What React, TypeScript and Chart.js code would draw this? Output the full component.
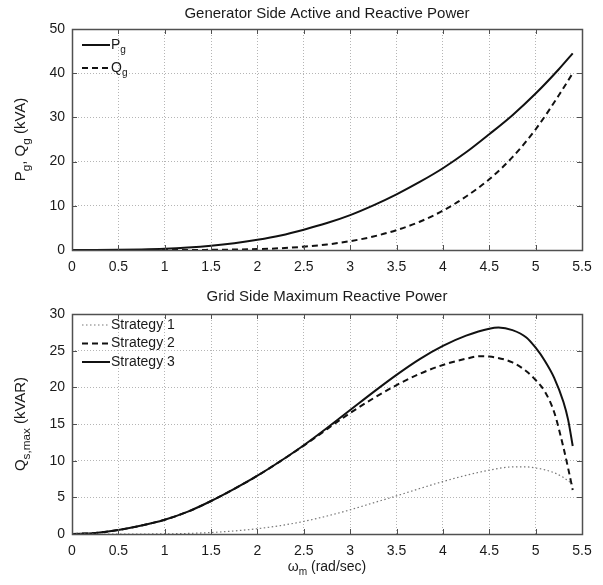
import React, { useEffect, useRef } from "react";
import { Chart, registerables } from "chart.js";

Chart.register(...registerables);

// ---------- data ----------
const TOP_TITLE = "Generator Side Active and Reactive Power";
const BOTTOM_TITLE = "Grid Side Maximum Reactive Power";

const X_TICKS = [0, 0.5, 1, 1.5, 2, 2.5, 3, 3.5, 4, 4.5, 5, 5.5];
const TOP_Y_TICKS = [0, 10, 20, 30, 40, 50];
const BOTTOM_Y_TICKS = [0, 5, 10, 15, 20, 25, 30];

const OMEGA_TOP = [0, 0.25, 0.5, 0.75, 1, 1.25, 1.5, 1.75, 2, 2.25, 2.5, 2.75, 3, 3.25, 3.5, 3.75, 4, 4.25, 4.5, 4.75, 5, 5.25, 5.4];
const P_G = [0, 0.004, 0.035, 0.12, 0.28, 0.56, 0.97, 1.55, 2.32, 3.3, 4.6, 6.1, 7.9, 10.1, 12.6, 15.4, 18.5, 22.1, 26.2, 30.5, 35.4, 40.9, 44.5];
const Q_G = [0, 0, 0, 0, 0, 0, 0.04, 0.1, 0.2, 0.4, 0.75, 1.25, 2.0, 3.05, 4.5, 6.4, 8.9, 12.1, 16.0, 21.0, 27.3, 35.0, 40.0];

const OMEGA_S3 = [0, 0.25, 0.5, 0.75, 1, 1.25, 1.5, 1.75, 2, 2.25, 2.5, 2.75, 3, 3.25, 3.5, 3.75, 4, 4.25, 4.5, 4.6, 4.75, 4.9, 5, 5.1, 5.2, 5.3, 5.35, 5.4];
const STRATEGY_3 = [0, 0.15, 0.55, 1.15, 1.95, 3.05, 4.5, 6.15, 7.95, 9.95, 12.1, 14.45, 16.9, 19.35, 21.7, 23.85, 25.65, 27.05, 28.0, 28.15, 27.8, 26.8, 25.4, 23.6, 21.3, 18.0, 15.6, 12.0];

const OMEGA_S2 = [0, 0.25, 0.5, 0.75, 1, 1.25, 1.5, 1.75, 2, 2.25, 2.5, 2.75, 3, 3.25, 3.5, 3.75, 4, 4.25, 4.4, 4.5, 4.75, 4.9, 5, 5.1, 5.2, 5.3, 5.35, 5.4];
const STRATEGY_2 = [0, 0.15, 0.55, 1.15, 1.95, 3.05, 4.5, 6.15, 7.95, 9.95, 12.05, 14.3, 16.5, 18.5, 20.3, 21.85, 23.05, 23.9, 24.25, 24.2, 23.4, 22.2, 21.0, 19.4, 16.6, 11.8, 9.0, 6.0];

const OMEGA_S1 = [0, 0.25, 0.5, 0.75, 1, 1.25, 1.5, 1.75, 2, 2.25, 2.5, 2.75, 3, 3.25, 3.5, 3.75, 4, 4.25, 4.5, 4.75, 4.9, 5, 5.1, 5.2, 5.3, 5.4];
const STRATEGY_1 = [0, 0, 0, 0, 0.02, 0.08, 0.2, 0.42, 0.72, 1.15, 1.72, 2.45, 3.3, 4.25, 5.2, 6.2, 7.15, 8.0, 8.7, 9.15, 9.15, 9.0, 8.75, 8.35, 7.7, 6.8];

// ---------- helpers ----------
type Seg = { t: string; sub?: boolean };
const FONT = '"Liberation Sans", Arial, Helvetica, sans-serif';
const TEXT = "#1a1a1a";

function richWidth(ctx: CanvasRenderingContext2D, segs: Seg[], size: number, subRatio: number) {
  let w = 0;
  for (const s of segs) {
    ctx.font = `${s.sub ? size * subRatio : size}px ${FONT}`;
    w += ctx.measureText(s.t).width;
  }
  return w;
}

function drawRich(ctx: CanvasRenderingContext2D, segs: Seg[], x: number, y: number, size: number, align: "left" | "center", subRatio = 0.72) {
  const w = richWidth(ctx, segs, size, subRatio);
  let cx = align === "center" ? x - w / 2 : x;
  ctx.textBaseline = "middle";
  ctx.textAlign = "left";
  for (const s of segs) {
    const fs = s.sub ? size * subRatio : size;
    ctx.font = `${fs}px ${FONT}`;
    ctx.fillText(s.t, cx, s.sub ? y + size * 0.38 : y);
    cx += ctx.measureText(s.t).width;
  }
}

type Decor = {
  title: string;
  titleY: number;
  yTitle: Seg[];
  yTitleX: number;
  xTitle?: Seg[];
  xTitleY?: number;
  legend: Seg[][];
  legendY: number[];
};

function makeDecor(cfg: Decor) {
  return {
    id: "decor",
    afterDraw(chart: any) {
      const { ctx, chartArea: a, scales } = chart;
      ctx.save();
      ctx.strokeStyle = "#505050";
      ctx.lineWidth = 1;
      ctx.setLineDash([]);
      const line = (x1: number, y1: number, x2: number, y2: number) => {
        ctx.beginPath();
        ctx.moveTo(x1, y1);
        ctx.lineTo(x2, y2);
        ctx.stroke();
      };
      scales.x.ticks.forEach((t: any) => {
        const px = Math.round(scales.x.getPixelForValue(t.value)) + 0.5;
        line(px, a.bottom, px, a.bottom - 5);
        line(px, a.top, px, a.top + 5);
      });
      scales.y.ticks.forEach((t: any) => {
        const py = Math.round(scales.y.getPixelForValue(t.value)) + 0.5;
        line(a.left, py, a.left + 5, py);
        line(a.right, py, a.right - 5, py);
      });
      ctx.lineWidth = 1.5;
      ctx.strokeRect(Math.round(a.left) + 0.5, Math.round(a.top) + 0.5, Math.round(a.right - a.left), Math.round(a.bottom - a.top));

      ctx.fillStyle = TEXT;
      drawRich(ctx, [{ t: cfg.title }], (a.left + a.right) / 2, cfg.titleY, 15, "center");
      ctx.save();
      ctx.translate(cfg.yTitleX, (a.top + a.bottom) / 2);
      ctx.rotate(-Math.PI / 2);
      drawRich(ctx, cfg.yTitle, 0, 0, 15, "center", 0.78);
      ctx.restore();
      if (cfg.xTitle && cfg.xTitleY !== undefined) {
        drawRich(ctx, cfg.xTitle, (a.left + a.right) / 2, cfg.xTitleY, 14, "center");
      }
      chart.data.datasets.forEach((ds: any, i: number) => {
        const y = cfg.legendY[i];
        ctx.strokeStyle = ds.borderColor;
        ctx.lineWidth = ds.borderWidth;
        ctx.setLineDash(ds.borderDash || []);
        line(82, y, 110, y);
        ctx.setLineDash([]);
        ctx.fillStyle = TEXT;
        drawRich(ctx, cfg.legend[i], 111, y, 14, "left");
      });
      ctx.restore();
    },
  };
}

function axes(yTicks: number[], yMax: number, yWidth: number, xHeight: number) {
  const grid = { color: "#b5b5b5", lineWidth: 1, drawTicks: false };
  const border = { display: false, dash: [1, 2] };
  const tickFont = { family: FONT, size: 14 };
  return {
    x: {
      type: "linear",
      min: 0,
      max: 5.5,
      grid,
      border,
      afterBuildTicks: (s: any) => {
        s.ticks = X_TICKS.map((v) => ({ value: v }));
      },
      afterFit: (s: any) => {
        s.height = xHeight;
      },
      ticks: { color: TEXT, font: tickFont, padding: 9, maxRotation: 0, autoSkip: false, callback: (v: any) => String(v) },
    },
    y: {
      type: "linear",
      min: 0,
      max: yMax,
      grid,
      border,
      afterBuildTicks: (s: any) => {
        s.ticks = yTicks.map((v) => ({ value: v }));
      },
      afterFit: (s: any) => {
        s.width = yWidth;
      },
      ticks: { color: TEXT, font: tickFont, padding: 7, autoSkip: false, callback: (v: any) => String(v) },
    },
  };
}

const pts = (xs: number[], ys: number[]) => xs.map((x, i) => ({ x, y: ys[i] }));

export default function App() {
  const topRef = useRef<HTMLCanvasElement | null>(null);
  const botRef = useRef<HTMLCanvasElement | null>(null);

  useEffect(() => {
    document.body.style.margin = "0";
    const common = {
      animation: false,
      responsive: false,
      maintainAspectRatio: false,
      plugins: { legend: { display: false }, tooltip: { enabled: false }, title: { display: false } },
      elements: { point: { radius: 0 }, line: { cubicInterpolationMode: "monotone" } },
    };

    const top = new Chart(topRef.current as HTMLCanvasElement, {
      type: "line",
      data: {
        datasets: [
          { label: "Pg", data: pts(OMEGA_TOP, P_G), borderColor: "#111", borderWidth: 2, borderDash: [], fill: false },
          { label: "Qg", data: pts(OMEGA_TOP, Q_G), borderColor: "#111", borderWidth: 2, borderDash: [6, 4], fill: false },
        ],
      },
      options: {
        ...common,
        layout: { padding: { top: 29, right: 21, left: 0, bottom: 0 } },
        scales: axes(TOP_Y_TICKS, 50, 72, 40),
      } as any,
      plugins: [
        makeDecor({
          title: TOP_TITLE,
          titleY: 14,
          yTitle: [{ t: "P" }, { t: "g", sub: true }, { t: ", Q" }, { t: "g", sub: true }, { t: " (kVA)" }],
          yTitleX: 21,
          legend: [
            [{ t: "P" }, { t: "g", sub: true }],
            [{ t: "Q" }, { t: "g", sub: true }],
          ],
          legendY: [45, 68],
        }) as any,
      ],
    });

    const bot = new Chart(botRef.current as HTMLCanvasElement, {
      type: "line",
      data: {
        datasets: [
          { label: "Strategy 1", data: pts(OMEGA_S1, STRATEGY_1), borderColor: "#777", borderWidth: 1.2, borderDash: [1.5, 2.5], fill: false },
          { label: "Strategy 2", data: pts(OMEGA_S2, STRATEGY_2), borderColor: "#111", borderWidth: 2, borderDash: [6, 4], fill: false },
          { label: "Strategy 3", data: pts(OMEGA_S3, STRATEGY_3), borderColor: "#111", borderWidth: 2, borderDash: [], fill: false },
        ],
      },
      options: {
        ...common,
        layout: { padding: { top: 24, right: 21, left: 0, bottom: 0 } },
        scales: axes(BOTTOM_Y_TICKS, 30, 72, 51),
      } as any,
      plugins: [
        makeDecor({
          title: BOTTOM_TITLE,
          titleY: 7,
          yTitle: [{ t: "Q" }, { t: "s,max", sub: true }, { t: " (kVAR)" }],
          yTitleX: 21,
          xTitle: [{ t: "ω" }, { t: "m", sub: true }, { t: " (rad/sec)" }],
          xTitleY: 277,
          legend: [[{ t: "Strategy 1" }], [{ t: "Strategy 2" }], [{ t: "Strategy 3" }]],
          legendY: [35, 53.5, 72],
        }) as any,
      ],
    });

    return () => {
      top.destroy();
      bot.destroy();
    };
  }, []);

  return (
    <div style={{ position: "relative", width: 603, height: 585, background: "#fff" }}>
      <canvas ref={topRef} width={603} height={290} style={{ position: "absolute", left: 0, top: 0, display: "block" }} />
      <canvas ref={botRef} width={603} height={295} style={{ position: "absolute", left: 0, top: 290, display: "block" }} />
    </div>
  );
}
